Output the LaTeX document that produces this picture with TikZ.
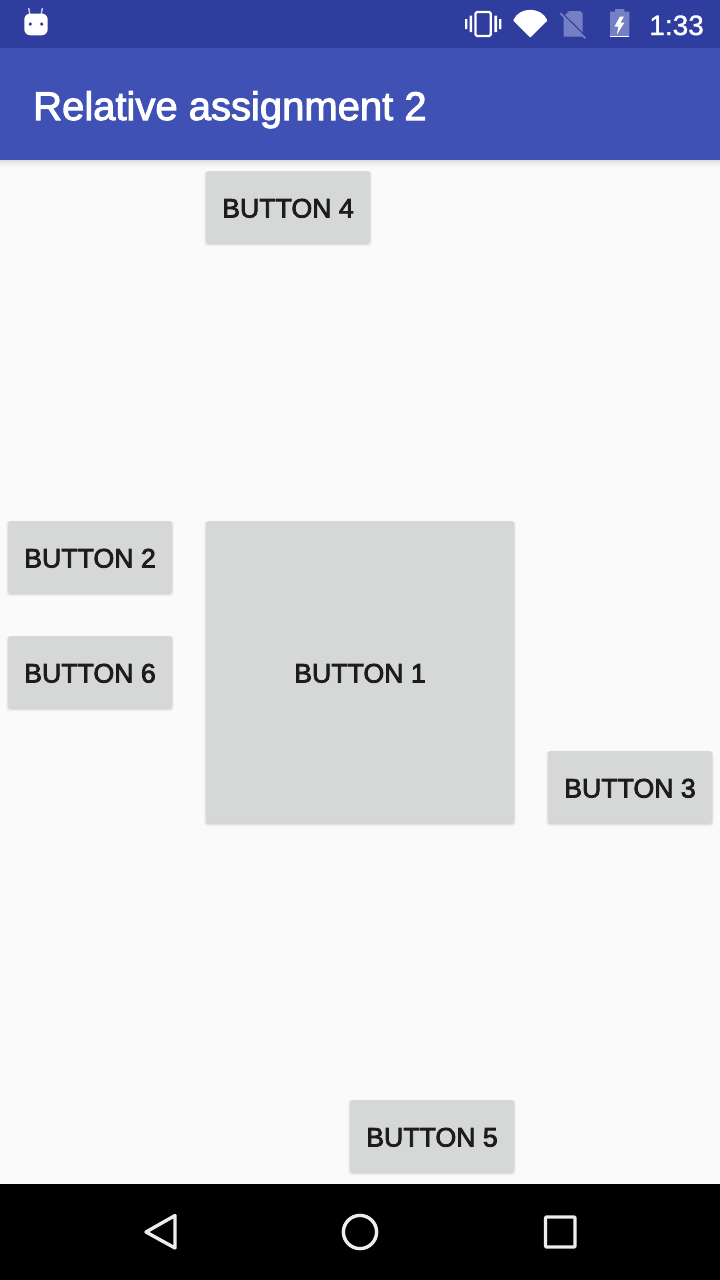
\documentclass[tikz,border=0pt]{standalone}
\usepackage{fontspec}
\setmainfont{Liberation Sans}
\newfontfamily\btnfont[FakeBold=3]{Liberation Sans}
\newfontfamily\ttlfont[FakeBold=2.5]{Liberation Sans}
\newfontfamily\clkfont[FakeBold=1.2]{Liberation Sans}
\definecolor{bgc}{HTML}{FAFAFA}
\definecolor{barc}{HTML}{3F51B5}
\definecolor{statc}{HTML}{2E3D9E}
\definecolor{btnc}{HTML}{D6D7D7}
\definecolor{txtc}{HTML}{1C1C1C}
\definecolor{navc}{HTML}{EDEDED}
\definecolor{dimc}{HTML}{767FC4}
\tikzset{
  btn/.style={fill=btnc,rounded corners=2.5pt,inner sep=0pt,minimum width=164pt,minimum height=72pt,
    text=txtc,font=\btnfont\fontsize{26.7}{30}\selectfont,text height=21pt,text depth=0pt,align=center},
  navicon/.style={draw=navc,line width=3.4pt,line join=round},
  dim/.style={fill=dimc}
}
\newcommand{\shd}[4]{%
  \foreach \e/\n in {3/2,2/5,1/9,0/15}{
    \fill[black!\n!bgc,rounded corners=3pt]
      ({#1-\e*.7},{#2-\e*.3+1}) rectangle ({#3+\e*.7},{#4+\e*.8+1});
  }}
\begin{document}
\begin{tikzpicture}[x=1pt,y=-1pt]
\useasboundingbox (0,0) rectangle (720,1280);
\fill[bgc] (0,0) rectangle (720,1280);
% app bar shadow
\foreach \i/\n in {0/12,1/9,2/7,3/5,4/4,5/3,6/2,7/1}{
  \fill[black!\n!bgc] (0,160+\i) rectangle (720,161+\i);
}
\fill[barc] (0,48) rectangle (720,160);
\fill[statc] (0,0) rectangle (720,48);
\node[anchor=base west,inner sep=0pt,text=white,font=\ttlfont\fontsize{40}{44}\selectfont] (title) at (33,120) {Relative assignment 2};
\node[anchor=base east,inner sep=0pt,text=white,font=\clkfont\fontsize{28}{32}\selectfont] (clock) at (704,35) {1:33};
% android icon
\draw[white!75!statc,line width=1.4pt] (30,15)--(28.7,8) (41,15)--(42.4,8);
\fill[white,rounded corners=6pt] (24.3,13.5) rectangle (47.7,35.3);
\fill[statc] (30.3,24) circle (1.8) (41.7,24) circle (1.8);
% vibrate
\draw[white,line width=2.3pt,rounded corners=1.5pt] (475.5,12) rectangle (490.8,36);
\fill[white] (469.6,15.6) rectangle (472.2,32) (494.4,15.6) rectangle (497,32)
  (465,19) rectangle (467.3,29) (499,19) rectangle (501.3,29);
% wifi
\fill[white,rounded corners=.6pt] (530.3,37.6) -- (513.2,20.6) .. controls (519,6.4) and (541.5,6.4) .. (547.4,20.6) -- cycle;
% sim
\fill[dim] (569,11) -- (580,11) -- (582.6,13.5) -- (582.6,36.5) -- (563.6,36.5) -- (563.6,16.5) -- cycle;
\draw[statc,line width=1.5pt] (561.5,12.6) -- (586,37);
\draw[dimc,line width=1.7pt] (560.3,13.2) -- (585.3,38.2);
% battery
\fill[dim] (615,9) rectangle (624.4,12) (610,11.7) rectangle (629.4,36);
\fill[white] (610,35.7) rectangle (629.4,37.4);
\fill[white] (620,16.5) -- (614.5,26.5) -- (618.5,26.5) -- (616.8,34.5) -- (624.5,22.5) -- (620.5,22.5) -- (624,16.5) -- cycle;
% buttons
\shd{206}{171}{370}{243}
\shd{8}{521}{172}{593}
\shd{8}{636}{172}{708}
\shd{206}{521}{514}{823}
\shd{548}{751}{712}{823}
\shd{350}{1100}{514}{1172}
\node[btn] (b4) at (288,207) {BUTTON 4};
\node[btn] (b2) at (90,557) {BUTTON 2};
\node[btn] (b6) at (90,672) {BUTTON 6};
\node[btn,minimum width=308pt,minimum height=302pt] (b1) at (360,672) {BUTTON 1};
\node[btn] (b3) at (630,787) {BUTTON 3};
\node[btn] (b5) at (432,1136) {BUTTON 5};
% nav bar
\fill[black] (0,1184) rectangle (720,1280);
\draw[navicon] (175,1215.5) -- (175,1248) -- (146,1232) -- cycle;
\draw[navicon] (360,1232) circle (16.6);
\draw[navicon,rounded corners=1pt] (545.5,1217) rectangle (575,1247);
\end{tikzpicture}
\end{document}
